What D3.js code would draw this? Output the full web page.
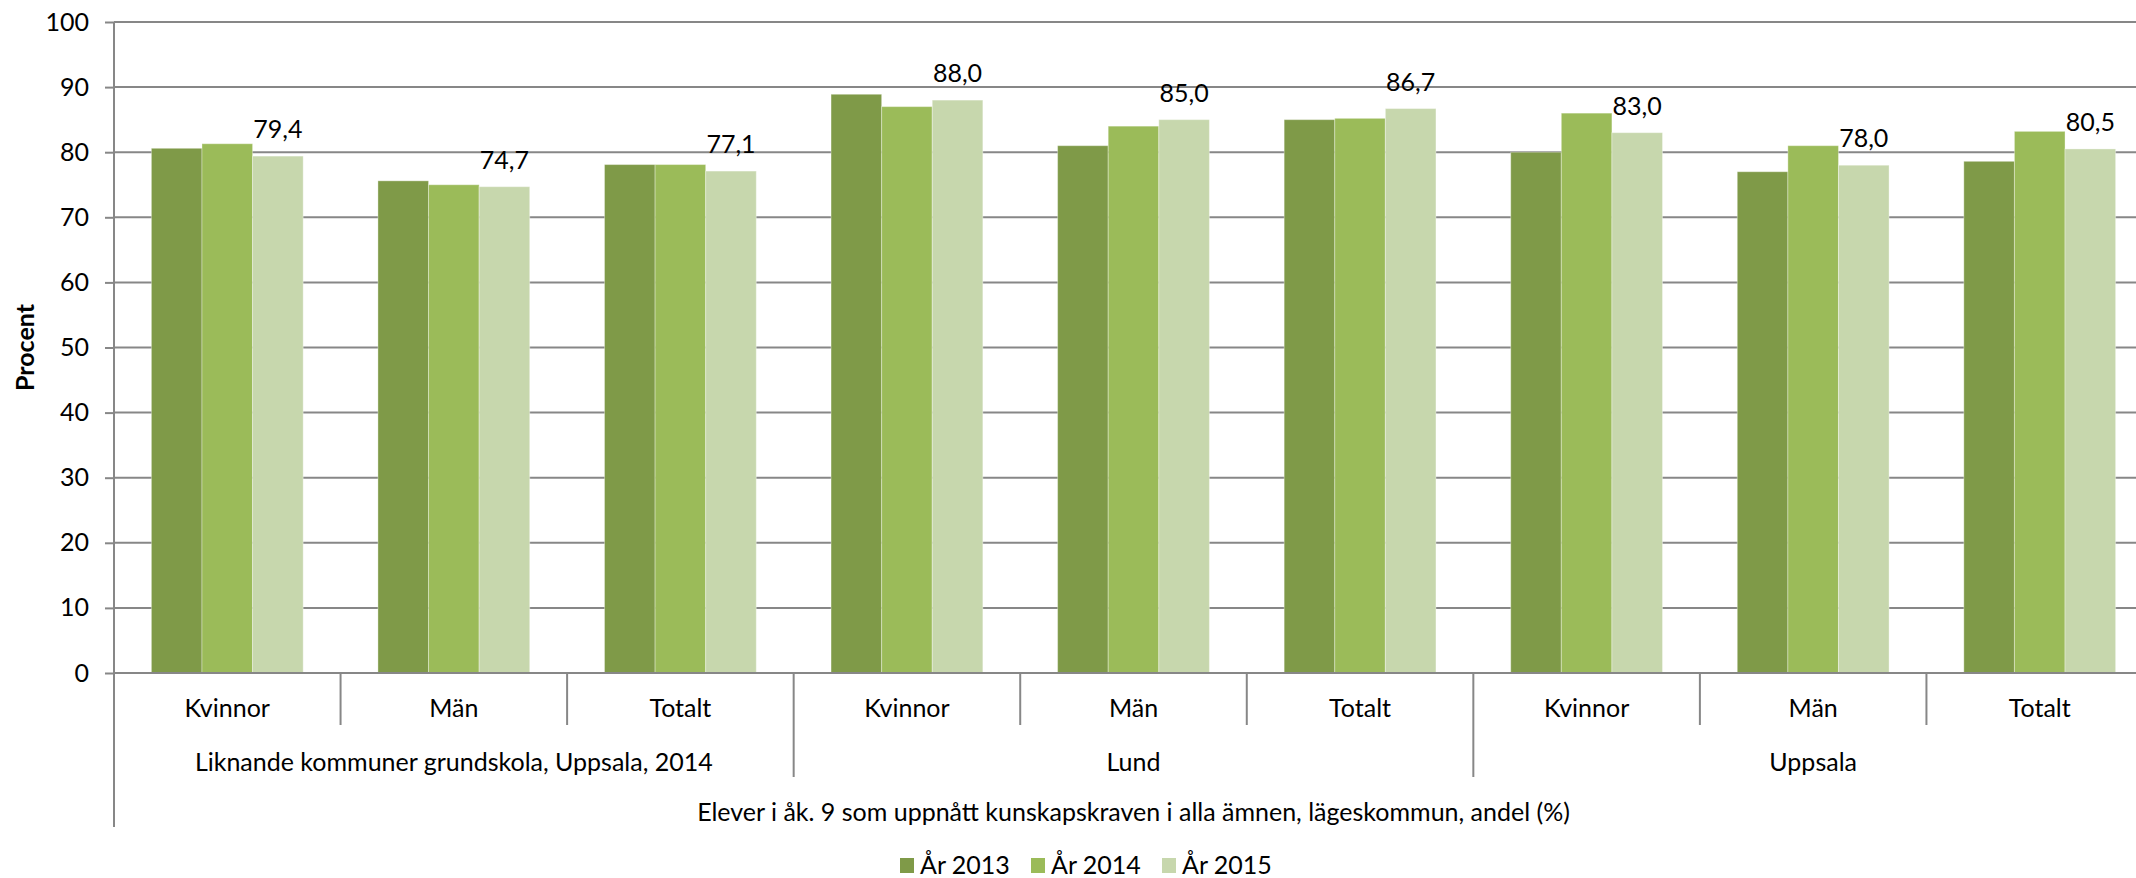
<!DOCTYPE html>
<html>
<head>
<meta charset="utf-8">
<script src="https://cdn.jsdelivr.net/npm/d3@7"></script>
<style>
  html, body { margin: 0; padding: 0; background: #fff; overflow: hidden; }
  svg { display: block; font-family: Lato, "Open Sans", sans-serif; }
</style>
</head>
<body>
<section></section>
<script>
// Data
const categories = ["Kvinnor", "Män", "Totalt", "Kvinnor", "Män", "Totalt", "Kvinnor", "Män", "Totalt"];
const groups = ["Liknande kommuner grundskola, Uppsala, 2014", "Lund", "Uppsala"];
const years = ["År 2013", "År 2014", "År 2015"];
const year2013 = [80.6, 75.6, 78.1, 88.9, 81.0, 85.0, 80.0, 77.0, 78.6];
const year2014 = [81.3, 75.0, 78.1, 87.0, 84.0, 85.2, 86.0, 81.0, 83.2];
const year2015 = [79.4, 74.7, 77.1, 88.0, 85.0, 86.7, 83.0, 78.0, 80.5];
const yTicks = [0, 10, 20, 30, 40, 50, 60, 70, 80, 90, 100];
const xTitle = "Elever i åk. 9 som uppnått kunskapskraven i alla ämnen, lägeskommun, andel (%)";
const yTitle = "Procent";

const series = [year2013, year2014, year2015];
const colors = ["#7f9a48", "#9bbb59", "#c7d7ad"];

const width = 2136;
const height = 878;
const marginLeft = 114;
const plotRight = 2153; // the plot runs a little past the picture edge
const marginTop = 22;
const baseY = 673;
const fontSize = 25;
const gridColor = "#878787";

const x0 = d3.scaleBand()
    .domain(d3.range(categories.length))
    .range([marginLeft, plotRight])
    .padding(0);

const bw = x0.bandwidth();
const x1 = d3.scaleBand()
    .domain(d3.range(years.length))
    .range([bw * 0.165, bw * 0.835])
    .padding(0);

const y = d3.scaleLinear()
    .domain([0, 100])
    .range([baseY, marginTop]);

const svg = d3.select("section")
    .append("svg")
    .attr("width", width)
    .attr("height", height)
    .attr("viewBox", [0, 0, width, height]);

// gridlines + y axis ticks
const yAxis = svg.append("g")
    .attr("transform", `translate(${marginLeft},0)`)
    .call(d3.axisLeft(y)
        .tickValues(yTicks)
        .tickSize(9)
        .tickPadding(16)
        .tickFormat(d3.format("d")));
yAxis.select(".domain").remove();
yAxis.selectAll(".tick line").attr("stroke", gridColor).attr("stroke-width", 2);
yAxis.selectAll(".tick text")
    .attr("font-size", fontSize)
    .attr("font-family", "Lato, sans-serif")
    .attr("fill", "#000");

svg.append("g")
    .selectAll("line")
    .data(yTicks.filter(d => d > 0))
    .join("line")
    .attr("x1", marginLeft)
    .attr("x2", plotRight)
    .attr("y1", d => y(d))
    .attr("y2", d => y(d))
    .attr("stroke", gridColor)
    .attr("stroke-width", 2);

// bars
const bars = svg.append("g");
series.forEach((vals, si) => {
    bars.append("g")
        .attr("fill", colors[si])
        .selectAll("rect")
        .data(vals)
        .join("rect")
        .attr("x", (d, i) => x0(i) + x1(si))
        .attr("y", d => y(d))
        .attr("width", x1.bandwidth())
        .attr("height", d => y(0) - y(d))
        .attr("stroke", "#ffffff")
        .attr("stroke-opacity", 0.35)
        .attr("stroke-width", 1);
});

// value labels on the 2015 series
svg.append("g")
    .selectAll("text")
    .data(year2015)
    .join("text")
    .attr("x", (d, i) => x0(i) + x1(2) + x1.bandwidth() / 2)
    .attr("y", d => y(d) - 18)
    .attr("text-anchor", "middle")
    .attr("font-size", fontSize)
    .text(d => d3.format(".1f")(d).replace(".", ","));

// x axis line and category separators
svg.append("line")
    .attr("x1", marginLeft).attr("x2", plotRight)
    .attr("y1", baseY).attr("y2", baseY)
    .attr("stroke", gridColor).attr("stroke-width", 2);

svg.append("line")
    .attr("x1", marginLeft).attr("x2", marginLeft)
    .attr("y1", marginTop).attr("y2", 827)
    .attr("stroke", gridColor).attr("stroke-width", 2);

svg.append("g")
    .selectAll("line")
    .data(d3.range(1, categories.length))
    .join("line")
    .attr("x1", i => x0(i))
    .attr("x2", i => x0(i))
    .attr("y1", baseY)
    .attr("y2", i => (i % 3 === 0 ? 777 : 725))
    .attr("stroke", gridColor)
    .attr("stroke-width", 2);

// category labels
svg.append("g")
    .selectAll("text")
    .data(categories)
    .join("text")
    .attr("x", (d, i) => x0(i) + bw / 2)
    .attr("y", 708)
    .attr("dy", "0.35em")
    .attr("text-anchor", "middle")
    .attr("font-size", fontSize)
    .text(d => d);

svg.append("g")
    .selectAll("text")
    .data(groups)
    .join("text")
    .attr("x", (d, i) => (x0(i * 3) + x0(i * 3 + 2) + bw) / 2)
    .attr("y", 762)
    .attr("dy", "0.35em")
    .attr("text-anchor", "middle")
    .attr("font-size", fontSize)
    .text(d => d);

svg.append("text")
    .attr("x", (marginLeft + plotRight) / 2)
    .attr("y", 812)
    .attr("dy", "0.35em")
    .attr("text-anchor", "middle")
    .attr("font-size", fontSize)
    .text(xTitle);

svg.append("text")
    .attr("transform", `translate(25,${(marginTop + baseY) / 2}) rotate(-90)`)
    .attr("dy", "0.35em")
    .attr("text-anchor", "middle")
    .attr("font-size", fontSize)
    .attr("font-weight", "bold")
    .text(yTitle);

// legend
const legend = svg.append("g").attr("transform", "translate(0,865)");
const legendX = [900, 1031, 1162];
const item = legend.selectAll("g")
    .data(years)
    .join("g")
    .attr("transform", (d, i) => `translate(${legendX[i]},0)`);
item.append("rect")
    .attr("x", 0).attr("y", -7)
    .attr("width", 14).attr("height", 15)
    .attr("fill", (d, i) => colors[i]);
item.append("text")
    .attr("x", 20)
    .attr("dy", "0.35em")
    .attr("font-size", fontSize)
    .text(d => d);
</script>
</body>
</html>
